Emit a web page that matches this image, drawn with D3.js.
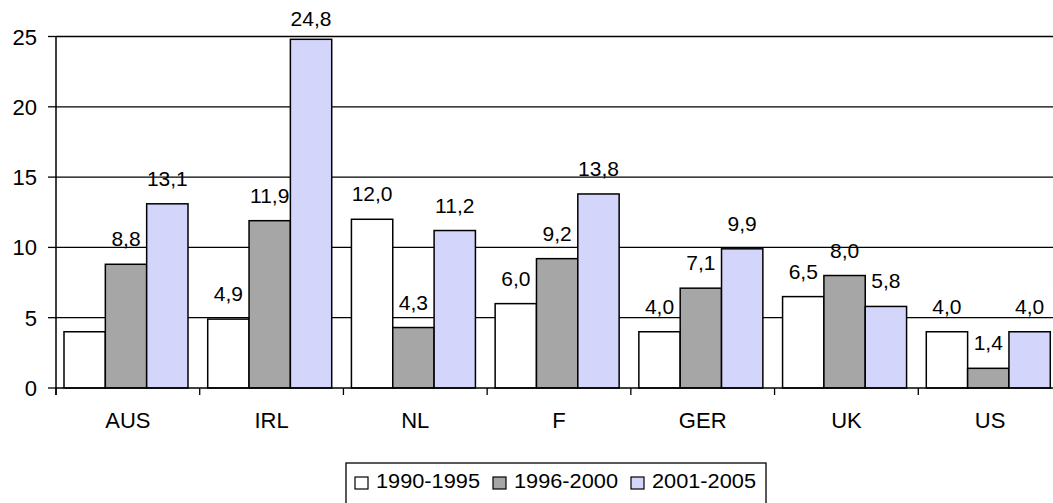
<!DOCTYPE html>
<meta charset="utf-8">
<script src="https://d3js.org/d3.v7.min.js"></script>
<style>
  body { margin: 0; background: #fff; }
  text { font-family: "Liberation Sans", Arial, sans-serif; fill: #000; }
</style>
<div id="chart"></div>
<script>
  // data
  var countries = ["AUS", "IRL", "NL", "F", "GER", "UK", "US"];
  var periods = ["1990-1995", "1996-2000", "2001-2005"];
  var v1990 = [4.0, 4.9, 12.0, 6.0, 4.0, 6.5, 4.0];
  var v1996 = [8.8, 11.9, 4.3, 9.2, 7.1, 8.0, 1.4];
  var v2001 = [13.1, 24.8, 11.2, 13.8, 9.9, 5.8, 4.0];
  var showLabel = [
    [false, true, true, true, true, true, true],
    [true, true, true, true, true, true, true],
    [true, true, true, true, true, true, true]
  ];
  var yTicks = [0, 5, 10, 15, 20, 25];
  var colors = ["#ffffff", "#a6a6a6", "#d4d5fb"];

  var series = [v1990, v1996, v2001];

  var W = 1053, H = 503;
  var plotLeft = 56, plotRight = 1062, plotTop = 36.5, plotBottom = 388;

  var svg = d3.select("#chart").append("svg")
    .attr("width", W)
    .attr("height", H);

  var x0 = d3.scaleBand().domain(countries).range([plotLeft, plotRight]).padding(0);
  var x1 = d3.scaleBand().domain(periods).range([8, 132]).padding(0);
  var y = d3.scaleLinear().domain([0, 25]).range([plotBottom, plotTop]);

  // gridlines
  svg.selectAll(".grid")
    .data(yTicks.filter(function (d) { return d > 0; }))
    .enter().append("line")
    .attr("x1", plotLeft).attr("x2", W)
    .attr("y1", function (d) { return y(d); })
    .attr("y2", function (d) { return y(d); })
    .attr("stroke", "#000")
    .attr("stroke-width", 1.3);

  // bars
  var rows = [];
  countries.forEach(function (c, i) {
    periods.forEach(function (p, j) {
      rows.push({ c: c, p: p, j: j, v: series[j][i], lab: showLabel[j][i] });
    });
  });

  svg.selectAll(".bar")
    .data(rows)
    .enter().append("rect")
    .attr("x", function (d) { return x0(d.c) + x1(d.p); })
    .attr("y", function (d) { return y(d.v); })
    .attr("width", x1.bandwidth())
    .attr("height", function (d) { return y(0) - y(d.v); })
    .attr("fill", function (d) { return colors[d.j]; })
    .attr("stroke", "#000")
    .attr("stroke-width", 1.5);

  // value labels
  svg.selectAll(".lab")
    .data(rows.filter(function (d) { return d.lab; }))
    .enter().append("text")
    .attr("x", function (d) { return x0(d.c) + x1(d.p) + x1.bandwidth() / 2; })
    .attr("y", function (d) { return Math.max(y(d.v) - 18, 26); })
    .attr("text-anchor", "middle")
    .style("font-size", "21px")
    .text(function (d) { return d.v.toFixed(1).replace(".", ","); });

  // axes
  svg.append("line")
    .attr("x1", plotLeft).attr("x2", plotLeft)
    .attr("y1", plotTop).attr("y2", plotBottom + 7)
    .attr("stroke", "#000").attr("stroke-width", 1.5);
  svg.append("line")
    .attr("x1", plotLeft).attr("x2", W)
    .attr("y1", plotBottom).attr("y2", plotBottom)
    .attr("stroke", "#000").attr("stroke-width", 1.5);

  svg.selectAll(".ytick")
    .data(yTicks)
    .enter().append("line")
    .attr("x1", plotLeft - 8).attr("x2", plotLeft)
    .attr("y1", function (d) { return y(d); })
    .attr("y2", function (d) { return y(d); })
    .attr("stroke", "#000").attr("stroke-width", 1.3);

  svg.selectAll(".ylab")
    .data(yTicks)
    .enter().append("text")
    .attr("x", 37)
    .attr("y", function (d) { return y(d) + 8; })
    .attr("text-anchor", "end")
    .style("font-size", "22px")
    .text(function (d) { return d; });

  svg.selectAll(".xtick")
    .data(countries)
    .enter().append("line")
    .attr("x1", function (d) { return x0(d); })
    .attr("x2", function (d) { return x0(d); })
    .attr("y1", plotBottom).attr("y2", plotBottom + 7)
    .attr("stroke", "#000").attr("stroke-width", 1.3);

  svg.selectAll(".xlab")
    .data(countries)
    .enter().append("text")
    .attr("x", function (d) { return x0(d) + x0.bandwidth() / 2; })
    .attr("y", 428)
    .attr("text-anchor", "middle")
    .style("font-size", "22px")
    .text(function (d) { return d; });

  // legend
  var legend = svg.append("g").attr("transform", "translate(346,463)");
  legend.append("rect")
    .attr("x", 0).attr("y", 0)
    .attr("width", 420).attr("height", 60)
    .attr("fill", "#fff")
    .attr("stroke", "#000").attr("stroke-width", 1.3);

  var item = legend.selectAll(".item")
    .data(periods)
    .enter().append("g")
    .attr("transform", function (d, i) { return "translate(" + (9 + i * 138) + ",0)"; });
  item.append("rect")
    .attr("x", 0).attr("y", 14)
    .attr("width", 13).attr("height", 12)
    .attr("fill", function (d, i) { return colors[i]; })
    .attr("stroke", "#000").attr("stroke-width", 1.2);
  item.append("text")
    .attr("x", 21).attr("y", 25)
    .style("font-size", "20px")
    .attr("textLength", 104)
    .attr("lengthAdjust", "spacingAndGlyphs")
    .text(function (d) { return d; });
</script>
